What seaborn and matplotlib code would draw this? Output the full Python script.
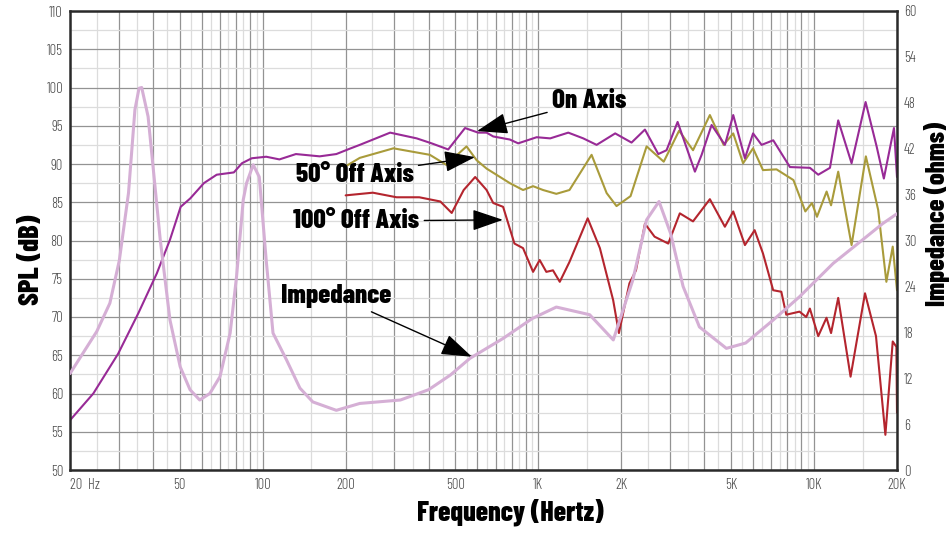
import numpy as np
import pandas as pd
import matplotlib
matplotlib.use("Agg")
import matplotlib.pyplot as plt
import seaborn as sns

# ---------------- data ----------------
on_freq = [20, 24.3, 29.9, 35.4, 41.3, 46.1, 50.4, 54.6, 61.2, 68.1, 78.6, 84.1, 91.3, 103, 115, 132,
           161, 185, 207, 225, 290, 362, 410, 471, 542, 605, 649, 686, 788, 845, 986, 1104, 1284,
           1455, 1627, 1900, 2178, 2436, 2723, 2918, 3200, 3698, 3911, 4251, 4751, 5093, 5615,
           6010, 6455, 7113, 8177, 9662, 10360, 11425, 12240, 13685, 15385, 16870, 17920, 19500, 20000]
on_db = [56.5, 60.0, 65.2, 70.5, 75.7, 80.1, 84.4, 85.5, 87.5, 88.6, 88.9, 90.1, 90.75, 90.95, 90.6, 91.3,
         91.0, 91.3, 92.0, 92.5, 94.1, 93.35, 92.7, 91.9, 94.7, 94.1, 94.1, 93.6, 93.2, 92.7, 93.5, 93.35, 94.1,
         93.35, 92.5, 94.0, 92.8, 94.5, 91.3, 91.8, 95.5, 89.0, 91.2, 95.1, 92.5, 96.4, 90.75,
         94.0, 92.5, 93.1, 89.6, 89.5, 88.6, 89.5, 95.7, 90.1, 98.1, 92.3, 88.1, 94.7, 88.3]

off50_freq = [200, 225, 298, 404, 463, 549, 597, 649, 788, 880, 957, 1040, 1162, 1297, 1560, 1769,
              1921, 2160, 2470, 2850, 3240, 3640, 4190, 4700, 5093, 5530, 6010, 6530, 7310, 8420,
              9300, 9830, 10250, 11110, 11530, 12240, 13685, 15420, 17090, 18300, 19300, 20000]
off50_db = [89.7, 90.8, 92.05, 91.2, 89.9, 92.3, 90.5, 89.4, 87.5, 86.6, 87.1, 86.6, 86.1, 86.6, 91.2, 86.2,
            84.5, 85.8, 92.3, 90.3, 94.35, 91.8, 96.4, 92.5, 94.0, 90.1, 92.05, 89.2, 89.3, 87.9,
            83.8, 84.9, 83.1, 86.4, 84.6, 89.0, 79.4, 91.0, 84.0, 74.6, 79.2, 73.5]

off100_freq = [200, 251, 306, 370, 441, 485, 536, 590, 649, 686, 745, 819, 880, 957, 1011, 1069, 1130,
               1196, 1297, 1510, 1672, 1868, 1960, 2140, 2260, 2436, 2640, 2960, 3260, 3640, 4190,
               4750, 5093, 5615, 6090, 6530, 7110, 7610, 7930, 8860, 9370, 9660, 10360, 11100, 11530,
               12240, 13570, 15310, 16780, 18150, 19300, 19900, 20000]
off100_db = [85.9, 86.25, 85.65, 85.65, 85.1, 83.6, 86.6, 88.3, 86.6, 84.9, 84.4, 79.6, 79.0, 75.9, 77.45, 75.9, 76.1,
             74.6, 77.2, 82.9, 79.0, 72.2, 67.9, 74.4, 76.1, 82.2, 80.5, 79.6, 83.55, 82.5, 85.4,
             81.8, 83.8, 79.4, 81.35, 78.3, 73.5, 73.3, 70.3, 70.7, 70.0, 71.1, 67.5, 69.9, 67.9,
             72.5, 62.2, 73.1, 67.5, 54.6, 66.8, 66.1, 57.5]

imp_freq = [20, 25, 27.9, 30.2, 32.6, 34.4, 35.6, 36.4, 38.4, 40.7, 42.5, 46.1, 50.2, 54.5, 59.1, 64.3,
            70, 76.2, 80.4, 85, 87.4, 92.4, 97.2, 103, 109, 122, 136.5, 152, 185, 225, 316, 400,
            479, 565, 745, 950, 1162, 1535, 1870, 2200, 2470, 2740, 3020, 3350, 3840, 4810, 5650,
            7110, 8860, 11730, 15500, 17730, 20000]
imp_ohm = [12.6, 18.1, 21.8, 27.4, 36.2, 47.1, 49.9, 50.0, 46.2, 37.0, 30.1, 19.6, 13.5, 10.5, 9.15, 10.0,
           12.2, 17.9, 25.3, 35.3, 37.5, 39.9, 38.3, 27.4, 17.9, 14.4, 10.7, 8.9, 7.8, 8.7, 9.15, 10.5,
           12.4, 14.6, 17.2, 19.8, 21.3, 20.3, 17.0, 24.8, 32.7, 35.1, 30.9, 24.0, 18.7, 15.9, 16.6,
           19.6, 22.65, 27.0, 30.5, 32.2, 33.5]

x_label_pos = [20, 50, 100, 200, 500, 1000, 2000, 5000, 10000, 20000]
x_label_txt = ["20  Hz", "50", "100", "200", "500", "1K", "2K", "5K", "10K", "20K"]
spl_ticks = list(range(50, 111, 5))
imp_ticks = list(range(0, 61, 6))

# ---------------- style ----------------
sns.set_theme(style="white")
plt.rcParams["font.family"] = ["Barlow Condensed", "DejaVu Sans"]

C_ON = "#982a96"
C_50 = "#a99b3b"
C_100 = "#b4252e"
C_IMP = "#d5afd5"

fig = plt.figure(figsize=(9.51, 5.33), dpi=100)
ax = fig.add_axes([70 / 951, 63 / 533, 827 / 951, 459 / 533])
ax.set_xscale("log")

# grid positions (audio graph paper)
major_x = ([20] + list(range(30, 101, 10)) + list(range(200, 1001, 100))
           + list(range(2000, 10001, 1000)) + [20000])
minor_x = (list(range(25, 100, 10)) + [150] + list(range(250, 1000, 100)) + [1500]
           + list(range(2500, 10000, 1000)) + [15000])
lab = dict(zip(x_label_pos, x_label_txt))
ax.set_xticks(major_x)
ax.set_xticklabels([lab.get(v, "") for v in major_x])
ax.set_xticks(minor_x, minor=True)
ax.set_xticklabels([], minor=True)
ax.set_yticks(spl_ticks)
ax.set_yticks([v + 2.5 for v in spl_ticks[:-1]], minor=True)
ax.set_xlim(20, 20000)
ax.set_ylim(50, 110)

ax.grid(which="major", color="#939393", linewidth=0.9)
ax.grid(which="minor", color="#dcdcdc", linewidth=0.9)
ax.set_axisbelow(True)
ax.tick_params(which="both", length=0)
ax.tick_params(axis="x", pad=6, labelsize=10.5, labelcolor="#4a4a4a")
ax.tick_params(axis="y", pad=5, labelsize=10.5, labelcolor="#4a4a4a")
for t in ax.get_xticklabels() + ax.get_yticklabels():
    t.set_fontweight(300)
ax.get_xticklabels()[0].set_ha("left")
for s in ax.spines.values():
    s.set_color("#2a2a2a")
    s.set_linewidth(1.8)

df_on = pd.DataFrame({"f": on_freq, "v": on_db})
df_50 = pd.DataFrame({"f": off50_freq, "v": off50_db})
df_100 = pd.DataFrame({"f": off100_freq, "v": off100_db})
df_imp = pd.DataFrame({"f": imp_freq, "v": imp_ohm})

sns.lineplot(data=df_100, x="f", y="v", ax=ax, color=C_100, linewidth=1.5, sort=False, estimator=None)
sns.lineplot(data=df_50, x="f", y="v", ax=ax, color=C_50, linewidth=1.5, sort=False, estimator=None)
sns.lineplot(data=df_on, x="f", y="v", ax=ax, color=C_ON, linewidth=1.5, sort=False, estimator=None)

ax2 = ax.twinx()
sns.lineplot(data=df_imp, x="f", y="v", ax=ax2, color=C_IMP, linewidth=2.2, sort=False, estimator=None)
ax2.set_ylim(0, 60)
ax2.set_yticks(imp_ticks)
ax2.grid(False)
ax2.tick_params(which="both", length=0, pad=5, labelsize=10.5, labelcolor="#4a4a4a")
for t in ax2.get_yticklabels():
    t.set_fontweight(300)
for s in ax2.spines.values():
    s.set_visible(False)
ax2.set_xlim(20, 20000)

LBL = dict(fontweight=800, color="black")
ax.set_xlabel("Frequency (Hertz)", fontsize=20, **LBL)
ax.xaxis.set_label_coords(0.533, -0.062)
ax.xaxis.label.set_va("top")
ax.set_ylabel("SPL (dB)", fontsize=20.5, **LBL)
ax.yaxis.set_label_coords(-0.031, 0.4575)
ax2.set_ylabel("Impedance (ohms)", fontsize=19, **LBL)
ax2.yaxis.set_label_coords(1.033, 0.558)

arrow = dict(arrowstyle="-|>,head_length=1.6,head_width=0.55", color="black", lw=1.0,
             shrinkA=1, shrinkB=0, mutation_scale=12)
ann = dict(ha="center", va="center", fontsize=19.5, fontweight=800, color="black",
           arrowprops=arrow, annotation_clip=False)
ax.annotate("On Axis", xy=(599, 94.3), xytext=(1526, 98.2), **ann)
ax.annotate("50° Off Axis", xy=(589, 90.9), xytext=(216, 88.6), **ann)
ax.annotate("100° Off Axis", xy=(744, 82.7), xytext=(219, 82.55), **ann)
ax.annotate("Impedance", xy=(574, 64.8), xytext=(184.5, 72.75), **ann)

fig.savefig("out.png", dpi=100)
